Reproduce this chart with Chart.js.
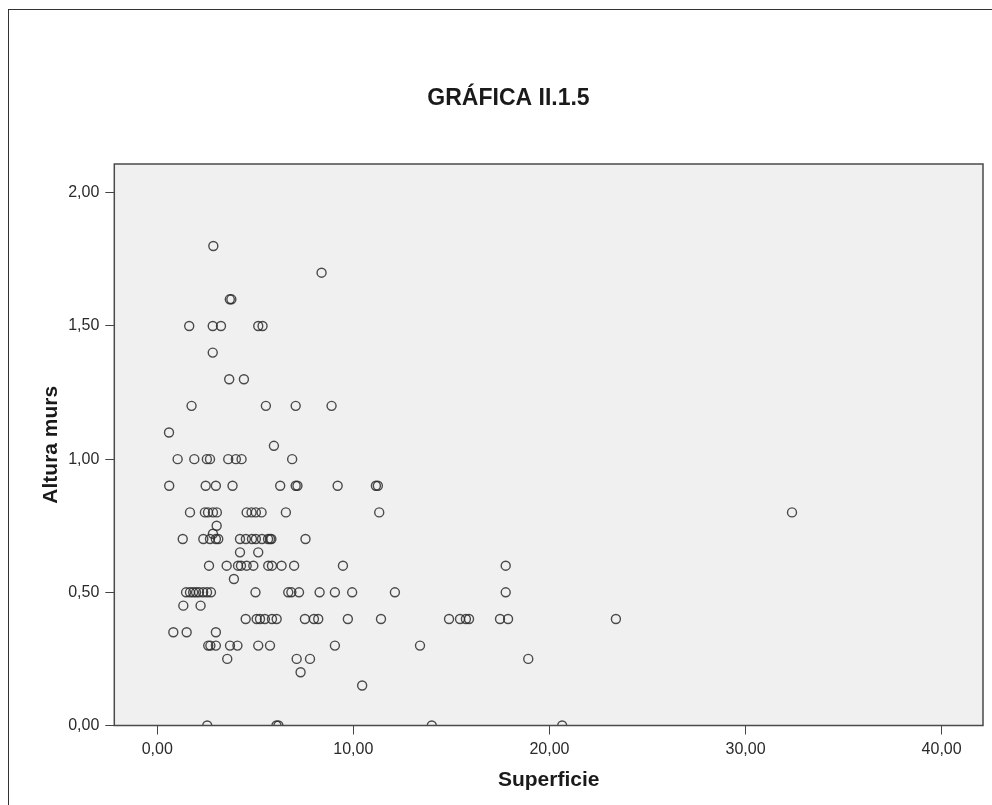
<!DOCTYPE html>
<html>
<head>
<meta charset="utf-8">
<script src="https://cdn.jsdelivr.net/npm/chart.js@4.4.0/dist/chart.umd.min.js"></script>
<style>
html, body { margin: 0; padding: 0; background: #ffffff; overflow: hidden; }
#frame { position: absolute; left: 8px; top: 9px; width: 1100px; height: 1000px; border: 1px solid #333; }
#c { position: absolute; left: 0; top: 0; }
</style>
</head>
<body>
<div id="frame"></div>
<canvas id="c" width="992" height="805"></canvas>
<script>
// ---- text ----
const chartTitle = 'GRÁFICA II.1.5';
const xTitle = 'Superficie';
const yTitle = 'Altura murs';

// ---- tick values ----
const xTicks = [0, 10, 20, 30, 40];
const yTicks = [0, 0.5, 1, 1.5, 2];

// ---- data: Superficie (x) and Altura murs (y), one entry per case ----
const superficie = [
  2.86,
  8.38,
  3.70, 3.78,
  1.63, 2.83, 3.25, 5.15, 5.37,
  2.83,
  3.67, 4.42,
  1.75, 5.54, 7.06, 8.89,
  0.60,
  5.95,
  1.04, 1.89, 2.53, 2.69, 3.62, 4.01, 4.30, 6.88,
  0.61, 2.47, 2.99, 3.84, 6.27, 7.06, 7.15, 9.20, 11.15, 11.25,
  1.67, 2.43, 2.59, 2.84, 3.04, 4.56, 4.81, 5.03, 5.32, 6.56, 11.32, 32.37,
  3.03, 2.84,
  1.30, 2.35, 2.69, 2.99, 3.11, 4.22, 4.52, 4.83, 5.03, 5.34, 5.65, 5.75, 5.82, 7.56,
  4.22, 5.15,
  2.64, 3.54, 4.12, 4.27, 4.56, 4.90, 5.66, 5.85, 6.34, 6.98, 9.47, 17.77,
  3.91,
  1.47, 1.67, 1.83, 1.98, 2.13, 2.34, 2.54, 2.74, 5.01, 6.68, 6.84, 7.23, 8.28, 9.06, 9.94, 12.12, 17.77,
  1.33, 2.21,
  4.51, 5.07, 5.24, 5.49, 5.85, 6.09, 7.53, 7.99, 8.21, 9.72, 11.41, 14.88, 15.44, 15.74, 15.90, 17.48, 17.89, 23.39,
  0.82, 1.50, 2.99,
  2.60, 2.71, 2.99, 3.71, 4.09, 5.15, 5.75, 9.06, 13.40,
  3.57, 7.11, 7.79, 18.92,
  7.31,
  10.45,
  2.55, 6.08, 6.18, 14.00, 20.65
];
const altura = [
  1.80,
  1.70,
  1.60, 1.60,
  1.50, 1.50, 1.50, 1.50, 1.50,
  1.40,
  1.30, 1.30,
  1.20, 1.20, 1.20, 1.20,
  1.10,
  1.05,
  1.00, 1.00, 1.00, 1.00, 1.00, 1.00, 1.00, 1.00,
  0.90, 0.90, 0.90, 0.90, 0.90, 0.90, 0.90, 0.90, 0.90, 0.90,
  0.80, 0.80, 0.80, 0.80, 0.80, 0.80, 0.80, 0.80, 0.80, 0.80, 0.80, 0.80,
  0.75, 0.72,
  0.70, 0.70, 0.70, 0.70, 0.70, 0.70, 0.70, 0.70, 0.70, 0.70, 0.70, 0.70, 0.70, 0.70,
  0.65, 0.65,
  0.60, 0.60, 0.60, 0.60, 0.60, 0.60, 0.60, 0.60, 0.60, 0.60, 0.60, 0.60,
  0.55,
  0.50, 0.50, 0.50, 0.50, 0.50, 0.50, 0.50, 0.50, 0.50, 0.50, 0.50, 0.50, 0.50, 0.50, 0.50, 0.50, 0.50,
  0.45, 0.45,
  0.40, 0.40, 0.40, 0.40, 0.40, 0.40, 0.40, 0.40, 0.40, 0.40, 0.40, 0.40, 0.40, 0.40, 0.40, 0.40, 0.40, 0.40,
  0.35, 0.35, 0.35,
  0.30, 0.30, 0.30, 0.30, 0.30, 0.30, 0.30, 0.30, 0.30,
  0.25, 0.25, 0.25, 0.25,
  0.20,
  0.15,
  0.00, 0.00, 0.00, 0.00, 0.00
];

const points = superficie.map((x, i) => ({ x: x, y: altura[i] }));
const fmt = v => Number(v).toFixed(2).replace('.', ',');
const FAMILY = '"Liberation Sans", Arial, Helvetica, sans-serif';

const plotFrame = {
  id: 'plotFrame',
  beforeDraw(chart) {
    const { ctx, chartArea: a } = chart;
    ctx.save();
    ctx.fillStyle = '#f0f0f0';
    ctx.fillRect(a.left, a.top, a.right - a.left, a.bottom - a.top);
    ctx.restore();
  },
  afterDatasetsDraw(chart) {
    const { ctx, chartArea: a } = chart;
    ctx.save();
    ctx.strokeStyle = '#4a4a4a';
    ctx.lineWidth = 1.5;
    ctx.strokeRect(a.left, a.top, a.right - a.left, a.bottom - a.top);
    ctx.restore();
  }
};

new Chart(document.getElementById('c'), {
  type: 'scatter',
  data: {
    datasets: [{
      data: points,
      pointStyle: 'circle',
      pointRadius: 4.5,
      pointHoverRadius: 4.5,
      pointBorderWidth: 1.4,
      pointBorderColor: 'rgba(45,45,45,0.85)',
      pointBackgroundColor: 'rgba(0,0,0,0)',
      clip: 0
    }]
  },
  options: {
    responsive: false,
    animation: false,
    events: [],
    layout: { padding: { left: 34, right: 9, top: 0, bottom: 0 } },
    plugins: {
      legend: { display: false },
      tooltip: { enabled: false },
      title: {
        display: true,
        text: chartTitle,
        color: '#1a1a1a',
        font: { family: FAMILY, size: 23, weight: 'bold', lineHeight: 1.2 },
        padding: { top: 84.7, bottom: 51.7 }
      }
    },
    scales: {
      x: {
        type: 'linear',
        min: -2.19,
        max: 42.11,
        afterBuildTicks: s => { s.ticks = xTicks.map(v => ({ value: v })); },
        afterFit: s => { s.height = 79.5; },
        border: { display: false },
        grid: { drawOnChartArea: false, drawTicks: true, tickLength: 9, color: '#444', lineWidth: 1 },
        ticks: {
          callback: v => fmt(v),
          color: '#2a2a2a',
          font: { family: FAMILY, size: 16 },
          padding: 5,
          maxRotation: 0,
          autoSkip: false
        },
        title: {
          display: true,
          text: xTitle,
          color: '#1a1a1a',
          font: { family: FAMILY, size: 21, weight: 'bold', lineHeight: 1.2 },
          padding: { top: 0, bottom: 12.4 }
        }
      },
      y: {
        type: 'linear',
        min: 0,
        max: 2.108,
        afterBuildTicks: s => { s.ticks = yTicks.map(v => ({ value: v })); },
        afterFit: s => { s.width = 80.3; },
        border: { display: false },
        grid: { drawOnChartArea: false, drawTicks: true, tickLength: 9, color: '#444', lineWidth: 1 },
        ticks: {
          callback: v => fmt(v),
          color: '#2a2a2a',
          font: { family: FAMILY, size: 16 },
          padding: 6,
          autoSkip: false
        },
        title: {
          display: true,
          text: yTitle,
          color: '#1a1a1a',
          font: { family: FAMILY, size: 21, weight: 'bold', lineHeight: 1.2 },
          padding: { top: 4.4, bottom: 0 }
        }
      }
    }
  },
  plugins: [plotFrame]
});
</script>
</body>
</html>
